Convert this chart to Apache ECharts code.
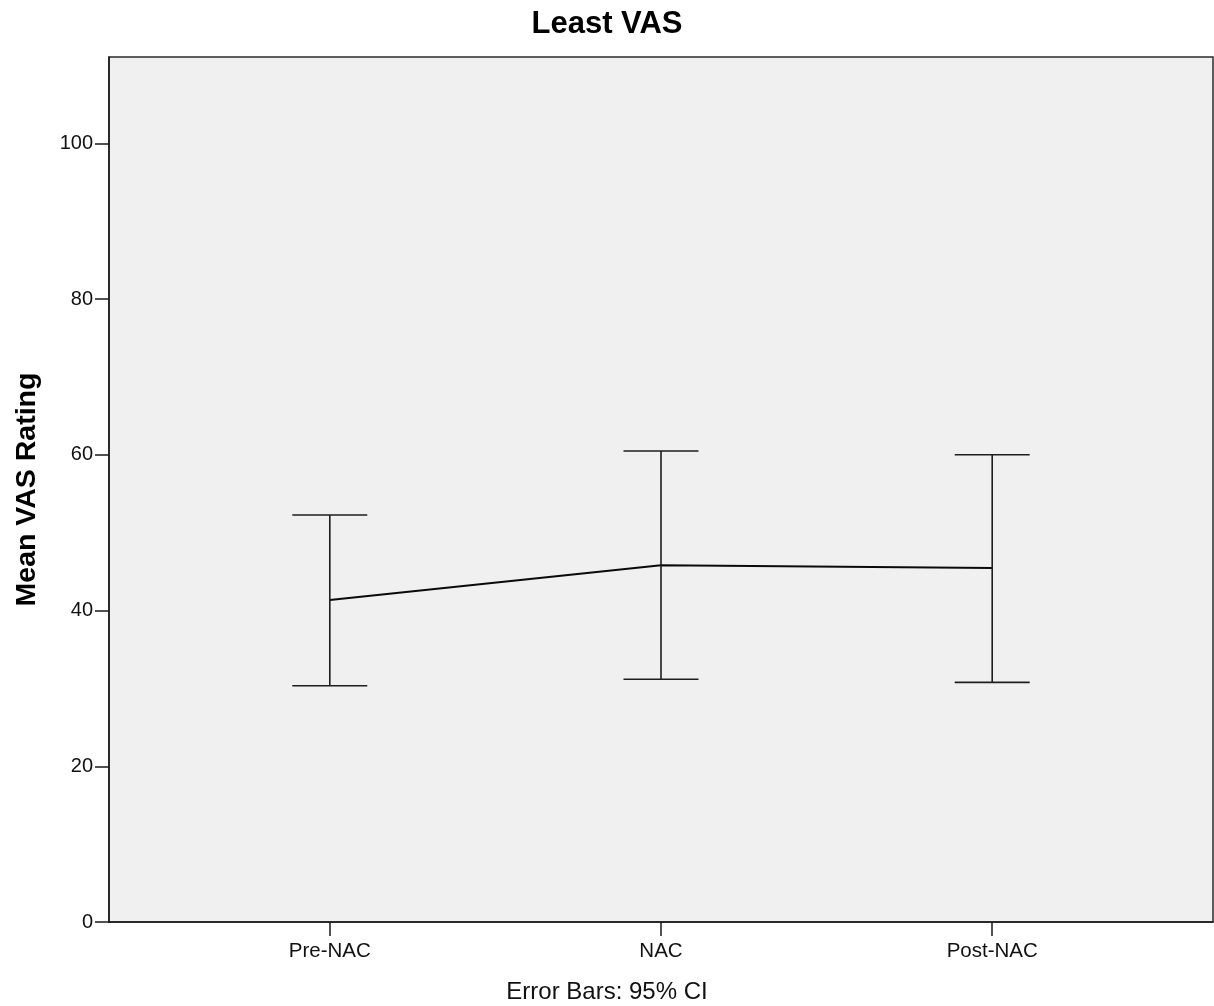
<!DOCTYPE html>
<html>
<head>
<meta charset="utf-8">
<script src="https://cdn.jsdelivr.net/npm/echarts@6/dist/echarts.min.js"></script>
<style>
html,body{margin:0;padding:0;background:#fff;}
#chart{width:1214px;height:1006px;}
</style>
</head>
<body>
<div id="chart"></div>
<script>
const categories = ['Pre-NAC', 'NAC', 'Post-NAC'];
const means = [41.35, 45.81, 45.46];
const ciLower = [30.35, 31.17, 30.78];
const ciUpper = [52.27, 60.49, 60.01];
const yTicks = [0, 20, 40, 60, 80, 100];
const chartTitle = 'Least VAS';
const yAxisTitle = 'Mean VAS Rating';
const footnote = 'Error Bars: 95% CI';

const FONT = "'Liberation Sans', Arial, sans-serif";
const xIdx = categories.map((c, i) => i);
const lineData = means.map((m, i) => [i, m]);
const errData = means.map((m, i) => [i, ciLower[i], ciUpper[i]]);

const chart = echarts.init(document.getElementById('chart'), null, {renderer: 'canvas'});
chart.setOption({
  animation: false,
  backgroundColor: '#ffffff',
  title: {
    text: chartTitle,
    left: 'center',
    top: 4,
    textStyle: {fontFamily: FONT, fontSize: 31, fontWeight: 'bold', color: '#000'}
  },
  graphic: [{
    type: 'text',
    left: 'center',
    top: 980,
    style: {text: footnote, font: '24px ' + FONT, fill: '#111'}
  }],
  grid: {
    left: 109, right: 1, top: 57, bottom: 84,
    show: true,
    backgroundColor: '#f0f0f0',
    borderColor: '#2a2a2a',
    borderWidth: 1.5
  },
  xAxis: {
    type: 'value',
    min: -2 / 3,
    max: 8 / 3,
    splitLine: {show: false},
    axisLine: {show: true, onZero: false, lineStyle: {color: '#1a1a1a', width: 1.5}},
    axisTick: {show: true, length: 14, customValues: xIdx, lineStyle: {color: '#1a1a1a', width: 1.5}},
    axisLabel: {
      customValues: xIdx,
      margin: 19,
      formatter: v => categories[Math.round(v)],
      fontFamily: FONT, fontSize: 20.5, color: '#111'
    }
  },
  yAxis: {
    type: 'value',
    min: 0,
    max: 111.1,
    name: yAxisTitle,
    nameLocation: 'middle',
    nameGap: 67,
    nameTextStyle: {fontFamily: FONT, fontSize: 28.5, fontWeight: 'bold', color: '#000'},
    splitLine: {show: false},
    axisLine: {show: true, onZero: false, lineStyle: {color: '#1a1a1a', width: 1.5}},
    axisTick: {show: true, length: 14, customValues: yTicks, lineStyle: {color: '#1a1a1a', width: 1.5}},
    axisLabel: {
      customValues: yTicks,
      margin: 16,
      padding: [4, 0, 0, 0],
      fontFamily: FONT, fontSize: 20, color: '#111'
    }
  },
  series: [
    {
      type: 'line',
      data: lineData,
      symbol: 'none',
      lineStyle: {color: '#0a0a0a', width: 2},
      z: 3
    },
    {
      type: 'custom',
      data: errData,
      z: 4,
      renderItem: function (params, api) {
        const x = api.value(0);
        const lo = api.value(1);
        const hi = api.value(2);
        const pHi = api.coord([x, hi]);
        const pLo = api.coord([x, lo]);
        const hw = 37.5;
        const st = {stroke: '#1e1e1e', lineWidth: 1.6};
        return {
          type: 'group',
          children: [
            {type: 'line', shape: {x1: pHi[0], y1: pHi[1], x2: pLo[0], y2: pLo[1]}, style: st},
            {type: 'line', shape: {x1: pHi[0] - hw, y1: pHi[1], x2: pHi[0] + hw, y2: pHi[1]}, style: st},
            {type: 'line', shape: {x1: pLo[0] - hw, y1: pLo[1], x2: pLo[0] + hw, y2: pLo[1]}, style: st}
          ]
        };
      }
    }
  ]
});
</script>
</body>
</html>
